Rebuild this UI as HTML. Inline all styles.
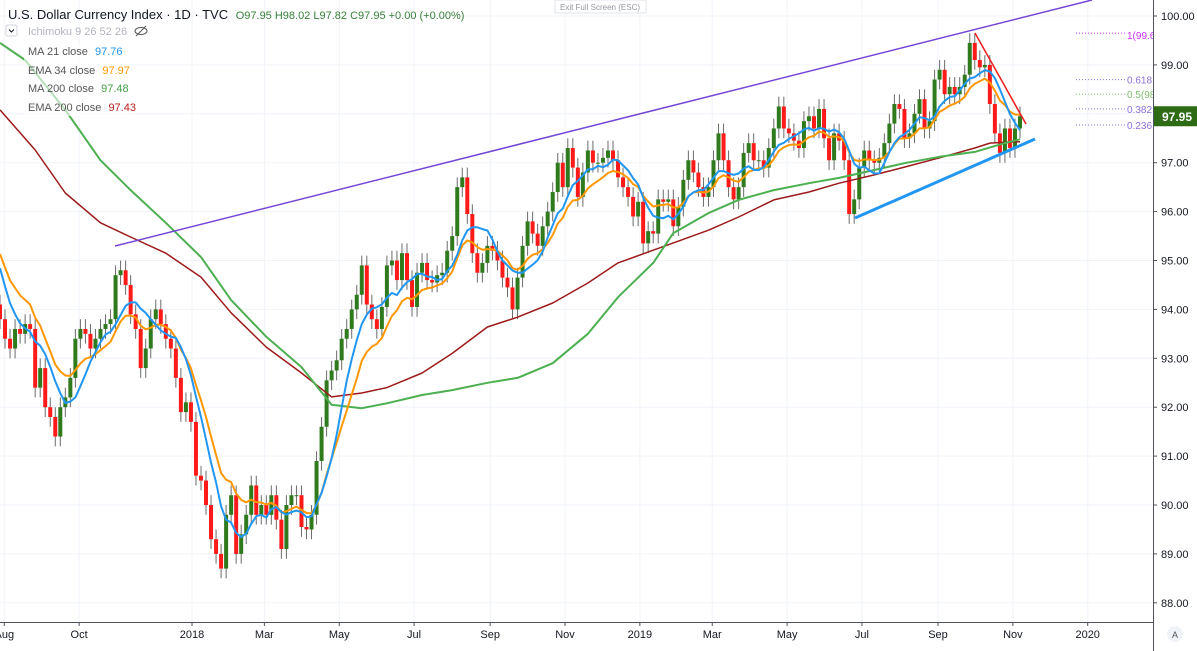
<!DOCTYPE html>
<html><head><meta charset="utf-8"><style>
html,body{margin:0;padding:0;background:#fff;overflow:hidden}
svg{display:block;font-family:"Liberation Sans",sans-serif}
</style></head><body>
<svg id="chart" width="1197" height="651" viewBox="0 0 1197 651" xmlns="http://www.w3.org/2000/svg">
<rect x="0" y="0" width="1197" height="651" fill="#ffffff"/>
<g id="grid"></g>
<defs><clipPath id="plotClip"><rect x="0" y="0" width="1153" height="622"/></clipPath></defs>
<g id="plot" clip-path="url(#plotClip)"></g>
<g id="axes"></g>
<g>
<rect x="555" y="0" width="91" height="13" fill="#fff" stroke="#e0e3eb"/>
<text x="600" y="10" font-size="8" fill="#9598a1" text-anchor="middle">Exit Full Screen (ESC)</text>
</g>
<g>
<rect x="24" y="44" width="105" height="72" fill="#fff" fill-opacity="0.6"/>
<text x="8" y="19" font-size="13" fill="#131722">U.S. Dollar Currency Index · 1D · TVC <tspan font-size="11" fill="#37813a" dx="4">O97.95 H98.02 L97.82 C97.95 +0.00 (+0.00%)</tspan></text>
<rect x="6" y="25" width="11" height="11" rx="2" fill="#fff" stroke="#d1d4dc"/>
<path d="M9 29.5 L11.5 32 L14 29.5" fill="none" stroke="#131722" stroke-width="1"/>
<text x="28" y="35" font-size="11" fill="#b2b5be">Ichimoku 9 26 52 26</text>
<g><ellipse cx="141" cy="31" rx="6" ry="3.5" fill="none" stroke="#555" stroke-width="1"/><line x1="136" y1="36" x2="146" y2="26" stroke="#555"/></g>
<text x="28" y="55" font-size="11" fill="#555">MA  21 close <tspan fill="#2196f3" dx="4">97.76</tspan></text>
<text x="28" y="74" font-size="11" fill="#555">EMA 34 close <tspan fill="#ff9800" dx="4">97.97</tspan></text>
<text x="28" y="92" font-size="11" fill="#555">MA  200 close <tspan fill="#43a047" dx="4">97.48</tspan></text>
<text x="28" y="111" font-size="11" fill="#555">EMA 200 close <tspan fill="#b71c1c" dx="4">97.43</tspan></text>
</g>
</svg>
<script>
const closes=[93.8,93.4,93.2,93.6,93.5,93.7,93.6,92.4,92.8,92.0,91.8,91.4,92.0,92.2,92.6,93.4,93.6,93.5,93.2,93.4,93.6,93.7,93.8,94.7,94.8,94.5,93.9,93.6,92.8,93.2,93.8,94.0,93.7,93.4,93.2,92.6,91.9,92.1,91.7,90.6,90.5,90.0,89.3,89.0,88.7,89.8,90.2,89.0,89.4,89.8,90.4,89.8,90.0,89.8,90.2,89.7,89.1,90.0,90.2,90.2,89.55,89.5,89.8,90.9,91.6,
92.55,92.75,92.96,93.4,93.6,94.0,94.3,94.9,94.1,93.8,93.6,94.05,94.9,95.0,94.6,95.15,94.6,94.05,94.75,94.95,94.6,94.55,94.7,94.75,95.2,95.5,96.5,96.7,95.95,95.15,94.75,94.95,95.3,95.2,95.0,94.65,94.45,94.0,94.65,95.3,95.8,95.55,95.3,95.7,96.0,96.4,97.0,96.5,97.3,96.9,96.3,96.8,97.25,97.0,97.0,97.1,97.25,97.05,96.7,96.5,96.3,95.9,96.2,95.35,95.6,
95.55,96.25,96.2,96.25,95.7,96.1,96.65,97.05,96.8,96.5,96.3,96.5,97.05,97.6,97.05,96.5,96.25,96.5,97.2,97.4,97.05,97.05,96.9,97.3,97.7,98.15,97.7,97.6,97.45,97.3,97.85,97.95,97.7,98.1,97.5,97.05,97.6,97.45,97.05,95.95,96.25,96.9,97.25,97.05,97.0,97.1,97.4,97.8,98.2,98.1,97.5,97.6,98.0,98.3,97.7,97.85,98.7,98.9,98.4,98.55,98.4,98.55,98.8,99.45,99.1,98.95,99.0,98.2,97.6,97.2,97.7,97.3,97.7,97.95];
const priorCloses=[96.4,96.0,95.6,95.2,94.8,94.4,94.1];
const ma200Idx=[0,5,13,20,26,33,40,46,53,60,66,72,77,84,90,97,103,110,117,123,130,134,141,147,154,161,167,174,180,187,194,200,203];
const ma200Vals=[99.45,99.1,98.08,97.05,96.44,95.77,95.07,94.19,93.44,92.82,92.05,91.98,92.08,92.25,92.35,92.5,92.6,92.9,93.5,94.25,94.95,95.56,95.97,96.24,96.44,96.58,96.69,96.85,96.99,97.12,97.22,97.4,97.48];
const ema200Idx=[0,7,13,20,26,33,40,46,53,60,66,72,77,84,90,97,103,110,117,123,130,134,141,147,154,161,167,174,180,187,194,197,200,203];
const ema200Vals=[98.08,97.26,96.38,95.77,95.48,95.15,94.66,93.93,93.23,92.7,92.21,92.29,92.4,92.7,93.1,93.64,93.84,94.13,94.54,94.95,95.21,95.36,95.62,95.89,96.24,96.4,96.58,96.75,96.91,97.1,97.3,97.4,97.42,97.43];
const priceTicks=[100,99,98,97,96,95,94,93,92,91,90,89,88];
const timeLabels=["Aug","Oct","2018","Mar","May","Jul","Sep","Nov","2019","Mar","May","Jul","Sep","Nov","2020"];
const timeDates=["2017-08-01","2017-10-01","2018-01-01","2018-03-01","2018-05-01","2018-07-01","2018-09-01","2018-11-01","2019-01-01","2019-03-01","2019-05-01","2019-07-01","2019-09-01","2019-11-01","2020-01-01"];
const fibLevels=["1(99.6","0.618","0.5(98","0.382","0.236"];
const fibPrices=[99.65,98.7,98.4,98.1,97.77];
const lastPrice=97.95;

const NS="http://www.w3.org/2000/svg";
const STEP=1020/(closes.length-1);
function xOf(i){return i*STEP;}
function yOf(p){return 16+(100-p)*48.9;}
function xDate(s){return 192+(Date.parse(s)-Date.parse("2018-01-01"))/86400000*1.227;}
function mk(tag,attrs,parent){const e=document.createElementNS(NS,tag);for(const k in attrs)e.setAttribute(k,attrs[k]);parent.appendChild(e);return e;}
const grid=document.getElementById('grid'),plot=document.getElementById('plot'),axes=document.getElementById('axes');

priceTicks.forEach(p=>{
  const l=mk('line',{x1:0,x2:1153,y1:yOf(p),y2:yOf(p),stroke:'#f0f3fa','stroke-width':1},grid);
  
  
});
timeDates.forEach(d=>{
  const l=mk('line',{x1:xDate(d),x2:xDate(d),y1:0,y2:622,stroke:'#f0f3fa','stroke-width':1},grid);
  
  
});

const all=priorCloses.concat(closes);
for(let i=0;i<closes.length;i++){
  const o=i>0?closes[i-1]:priorCloses[priorCloses.length-1];
  const c=closes[i];
  const hi=Math.max(o,c)+0.2, lo=Math.min(o,c)-0.2;
  const x=xOf(i);
  const w=mk('line',{x1:x,x2:x,y1:yOf(hi),y2:yOf(lo),stroke:'#6b6b6b','stroke-width':1},plot);
  
  
  const top=yOf(Math.max(o,c)),h=Math.max(1,Math.abs(yOf(o)-yOf(c)));
  const b=mk('rect',{x:x-2,y:top,width:4,height:h,fill:c>=o?'#2f7a1d':'#ff1a1a'},plot);
  
  
}
function poly(pts,color,width,name){
  const p=mk('polyline',{points:pts.map(q=>q[0].toFixed(1)+','+q[1].toFixed(1)).join(' '),fill:'none',stroke:color,'stroke-width':width,'stroke-linejoin':'round'},plot);
  
  
}
poly(ema200Idx.map((k,j)=>[xOf(k),yOf(ema200Vals[j])]),'#9c1a1a',1.5,'ema200-line');
poly(ma200Idx.map((k,j)=>[xOf(k),yOf(ma200Vals[j])]),'#4caf50',2,'ma200-line');
const off=priorCloses.length;
let ema=priorCloses[0];const alpha=2/12.6;const emaPts=[],maPts=[];
for(let j=0;j<all.length;j++){
  ema=alpha*all[j]+(1-alpha)*ema;
  if(j>=off){
    const i=j-off;emaPts.push([xOf(i),yOf(ema)]);
    const s=Math.max(0,j-6);let sum=0;for(let k=s;k<=j;k++)sum+=all[k];
    maPts.push([xOf(i),yOf(sum/(j-s+1))]);
  }
}
poly(emaPts,'#ff9800',2,'ema34-line');
poly(maPts,'#2196f3',2,'ma21-line');

function seg(x1,y1,x2,y2,color,w,name){
  const l=mk('line',{x1,y1,x2,y2,stroke:color,'stroke-width':w},plot);
  
  
}
seg(115,246,1092,0,'#7446d6',1.5,'resistance-trendline');
seg(855,218,1035,139,'#2196f3',3,'support-trendline');
seg(975,33,1026,124,'#ee1c1c',1.5,'down-trendline');
const fibColors=['#cc33ff','#8e6fd8','#80c06e','#8e6fd8','#8e6fd8'];
fibLevels.forEach((t,j)=>{
  const y=yOf(fibPrices[j]);
  const l=mk('line',{x1:1076,x2:1125,y1:y,y2:y,stroke:fibColors[j],'stroke-width':1,'stroke-dasharray':'1,2'},plot);
  
  
  const tx=mk('text',{x:1127,y:y+(j==0?6:4),'font-size':10,fill:fibColors[j]},plot);
  tx.textContent=t;
  
  
});

mk('line',{x1:1153.5,x2:1153.5,y1:0,y2:651,stroke:'#50535e','stroke-width':1},axes);
mk('line',{x1:0,x2:1153,y1:622.5,y2:622.5,stroke:'#50535e','stroke-width':1},axes);
priceTicks.forEach(p=>{
  const y=yOf(p);
  mk('line',{x1:1153,x2:1157,y1:y,y2:y,stroke:'#50535e'},axes);
  const t=mk('text',{x:1161,y:y+4,'font-size':11,fill:'#131722'},axes);
  t.textContent=p.toFixed(2);
  
  
});
timeLabels.forEach((s,j)=>{
  const x=xDate(timeDates[j]);
  mk('line',{x1:x,x2:x,y1:622,y2:626,stroke:'#50535e'},axes);
  const t=mk('text',{x:x,y:638,'font-size':11,fill:'#131722','text-anchor':'middle'},axes);
  t.textContent=s;
  
  
});
const tag=mk('g',{},axes);


mk('rect',{x:1154,y:yOf(lastPrice)-10,width:43,height:20,fill:'#2e6b15'},tag);
const lt=mk('text',{x:1162,y:yOf(lastPrice)+5,'font-size':12,'font-weight':'bold',fill:'#fff'},tag);
lt.textContent=lastPrice.toFixed(2);
const ab=mk('g',{},axes);


mk('circle',{cx:1175,cy:634,r:8,fill:'#f0f3fa'},ab);
const at=mk('text',{x:1175,y:638,'font-size':9,fill:'#555','text-anchor':'middle'},ab);
at.textContent='A';
</script>
</body></html>
